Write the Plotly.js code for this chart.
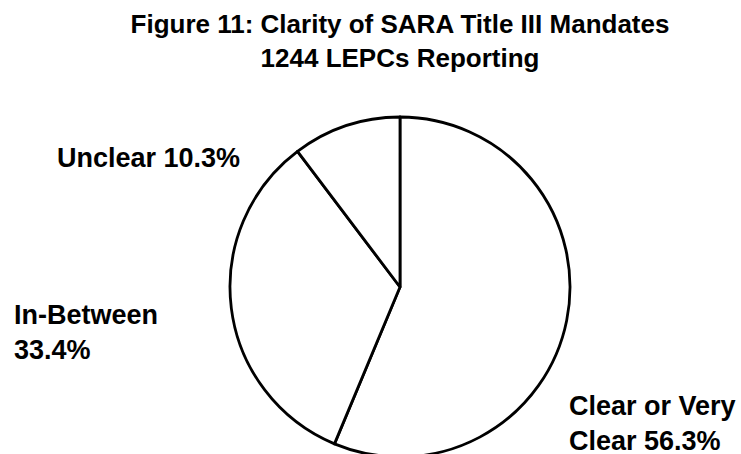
<!DOCTYPE html>
<html>
<head>
<meta charset="utf-8">
<script src="https://cdn.plot.ly/plotly-3.0.1.min.js"></script>
<style>
html, body { margin: 0; padding: 0; overflow: hidden; background: #fff; }
#chart { width: 741px; height: 460px; }
</style>
</head>
<body>
<div id="chart"></div>
<script>
// Data
const labels = ["Clear or Very Clear", "In-Between", "Unclear"];
const values = [56.3, 33.4, 10.3];
const labelLines = [["Clear or Very", "Clear 56.3%"], ["In-Between", "33.4%"], ["Unclear 10.3%"]];
const titleLines = ["Figure 11: Clarity of SARA Title III Mandates", "1244 LEPCs Reporting"];

const W = 741, H = 460;
const font = "Liberation Sans, Arial, sans-serif";

// label placement (pixels, left edge / vertical centre)
const labelPos = [[567, 423], [12, 333], [55, 158]];

const annotations = labelLines.map((lines, i) => ({
  xref: "paper", yref: "paper",
  x: labelPos[i][0] / W, y: (H - labelPos[i][1]) / H,
  xanchor: "left", yanchor: "middle", align: "left",
  showarrow: false,
  text: "<b>" + lines.join("<br>") + "</b>",
  font: { family: font, size: 27, color: "#000" }
}));

const trace = {
  type: "pie",
  labels: labels,
  values: values,
  sort: false,
  direction: "clockwise",
  rotation: 0,
  textinfo: "none",
  hoverinfo: "label+percent",
  marker: { colors: ["#ffffff", "#ffffff", "#ffffff"], line: { color: "#000", width: 2.8 } },
  domain: { x: [230 / W, 570 / W], y: [(H - 457) / H, (H - 117) / H] },
  showlegend: false
};

const layout = {
  width: W, height: H,
  margin: { l: 0, r: 0, t: 0, b: 0 },
  paper_bgcolor: "#fff", plot_bgcolor: "#fff",
  title: {
    text: "<b>" + titleLines.join("<br>") + "</b>",
    font: { family: font, size: 26, color: "#000" },
    x: 400 / W, xanchor: "center",
    y: 1 - 33 / H, yanchor: "top", yref: "container"
  },
  annotations: annotations,
  showlegend: false
};

Plotly.newPlot("chart", [trace], layout, { displayModeBar: false, staticPlot: true });
</script>
</body>
</html>
